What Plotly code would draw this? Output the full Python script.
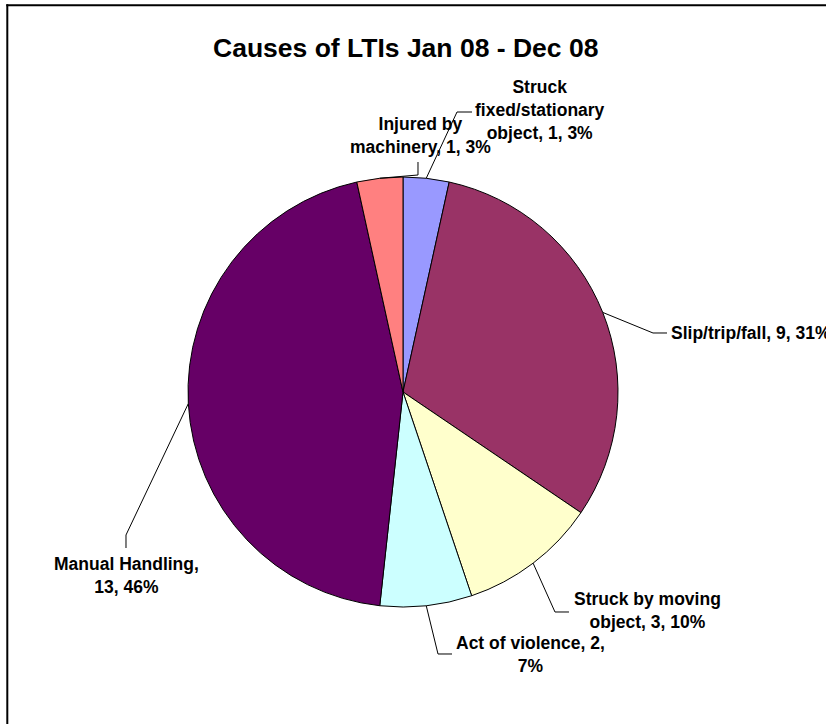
import math
import plotly.graph_objects as go

# Lost-time injuries by cause, Jan 08 - Dec 08
causes = [
    "Struck fixed/stationary object",
    "Slip/trip/fall",
    "Struck by moving object",
    "Act of violence",
    "Manual Handling",
    "Injured by machinery",
]
counts = [1, 9, 3, 2, 13, 1]
shares = ["3%", "31%", "10%", "7%", "46%", "3%"]
colors = ["#9999FF", "#993366", "#FFFFCC", "#CCFFFF", "#660066", "#FF8080"]

# label wording with its line breaks
label_templates = [
    "Struck<br>fixed/stationary<br>object, {n}, {p}",
    "Slip/trip/fall, {n}, {p}",
    "Struck by moving<br>object, {n}, {p}",
    "Act of violence, {n},<br>{p}",
    "Manual Handling,<br>{n}, {p}",
    "Injured by<br>machinery, {n}, {p}",
]

W, H = 826, 724
FONT = "Liberation Sans, Arial, sans-serif"


def px(x):
    return x / W


def py(y):
    return 1 - y / H


# pie placement (pixels)
CX, CY, R = 403, 392, 215

# label block positions (pixels) and anchors, leader-line elbows
label_pos = [
    (540, 110, "center"),
    (669, 333, "left"),
    (647, 610, "center"),
    (530, 654, "center"),
    (126, 575, "center"),
    (420, 135, "center"),
]
elbows = [
    [(457, 112), (472, 112)],
    [(653, 333), (667, 333)],
    [(555, 612), (569, 612)],
    [(438, 654), (452, 654)],
    [(126, 535), (126, 548)],
    [(418, 175), (418, 162)],
]

fig = go.Figure(
    go.Pie(
        labels=causes,
        values=counts,
        sort=False,
        direction="clockwise",
        rotation=0,
        textinfo="none",
        hoverinfo="label+value+percent",
        marker=dict(colors=colors, line=dict(color="black", width=1)),
        domain=dict(x=[px(CX - R), px(CX + R)], y=[py(CY + R), py(CY - R)]),
        showlegend=False,
    )
)

total = sum(counts)
shapes = []
annotations = []
cum = 0
for i, n in enumerate(counts):
    mid = (cum + n / 2) / total * 2 * math.pi
    cum += n
    ax = CX + R * math.sin(mid)
    ay = CY - R * math.cos(mid)
    pts = [(ax, ay)] + elbows[i]
    path = "M " + " L ".join(f"{px(x):.5f},{py(y):.5f}" for x, y in pts)
    shapes.append(dict(type="path", xref="paper", yref="paper", path=path,
                       line=dict(color="black", width=1)))
    lx, ly, anchor = label_pos[i]
    annotations.append(dict(
        text="<b>" + label_templates[i].format(n=n, p=shares[i]).replace("<br>", "</b><br><b>") + "</b>",
        x=px(lx), y=py(ly), xref="paper", yref="paper",
        xanchor=anchor, yanchor="middle", align="center",
        showarrow=False, font=dict(family=FONT, size=17.5, color="black"),
    ))

# chart title
annotations.append(dict(
    text="<b>Causes of LTIs Jan 08 - Dec 08</b>",
    x=px(405), y=py(48), xref="paper", yref="paper",
    xanchor="center", yanchor="middle", showarrow=False,
    font=dict(family=FONT, size=26.5, color="black"),
))

# chart-area frame: left and top edges (the rest runs past the page)
shapes.append(dict(type="line", xref="paper", yref="paper",
                   x0=px(7.3), x1=px(7.3), y0=0, y1=py(4.3),
                   line=dict(color="black", width=2)))
shapes.append(dict(type="line", xref="paper", yref="paper",
                   x0=px(6.3), x1=1, y0=py(5.3), y1=py(5.3),
                   line=dict(color="black", width=2)))

fig.update_layout(
    width=W, height=H,
    margin=dict(l=0, r=0, t=0, b=0),
    paper_bgcolor="white", plot_bgcolor="white",
    shapes=shapes, annotations=annotations,
)

fig.write_html("out.html")
